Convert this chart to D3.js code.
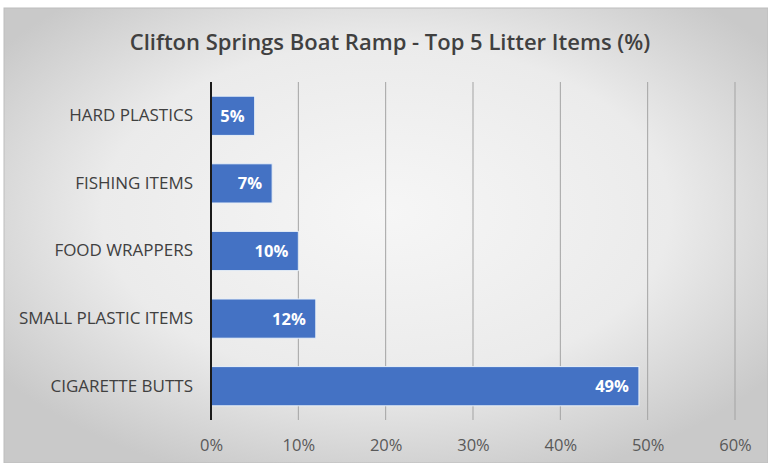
<!DOCTYPE html>
<html><head><meta charset="utf-8">
<script src="https://cdn.jsdelivr.net/npm/d3@7"></script>
<style>html,body{margin:0;padding:0;background:#fff;}svg{display:block;}</style>
</head><body>
<svg id="c" width="768" height="463"></svg>
<script>
const categories = ["HARD PLASTICS","FISHING ITEMS","FOOD WRAPPERS","SMALL PLASTIC ITEMS","CIGARETTE BUTTS"];
const values = [5, 7, 10, 12, 49];
const tickValues = [0, 10, 20, 30, 40, 50, 60];
const title = "Clifton Springs Boat Ramp - Top 5 Litter Items (%)";

const svg = d3.select("#c");
const defs = svg.append("defs");
const grad = defs.append("radialGradient").attr("id","bg").attr("cx","50%").attr("cy","45%").attr("r","62%");
grad.append("stop").attr("offset","0%").attr("stop-color","#f6f6f6");
grad.append("stop").attr("offset","60%").attr("stop-color","#ebebeb");
grad.append("stop").attr("offset","100%").attr("stop-color","#c9c9c9");
svg.append("rect").attr("x",4).attr("y",8).attr("width",764).attr("height",455).attr("fill","url(#bg)")
  .attr("stroke","#bdbdbd").attr("stroke-width",1);

const x = d3.scaleLinear().domain([0,60]).range([211,735]);
const y = d3.scaleBand().domain(categories).range([82,420]).paddingInner(0.42).paddingOuter(0.21);

const font = "'Open Sans', sans-serif";

// title
svg.append("text").attr("x",390).attr("y",50).attr("text-anchor","middle")
  .attr("font-family",font).attr("font-size",22).attr("font-weight",600).attr("fill","#404040")
  .text(title);

// gridlines
svg.append("g").selectAll("line").data(tickValues.filter(d=>d>0)).join("line")
  .attr("x1",d=>x(d)).attr("x2",d=>x(d)).attr("y1",82).attr("y2",420)
  .attr("stroke","#a3a3a3").attr("stroke-width",1);

// x axis labels
const xAxis = d3.axisBottom(x).tickValues(tickValues).tickFormat(d=>d+"%").tickSize(0).tickPadding(0);
const gx = svg.append("g").attr("transform","translate(0,439)").call(xAxis);
gx.select(".domain").remove();
gx.selectAll("text").attr("font-family",font).attr("font-size",16.5).attr("fill","#595959").attr("dy","0.71em");

// bars
svg.append("g").selectAll("rect").data(values).join("rect")
  .attr("x",x(0)).attr("y",(d,i)=>y(categories[i]))
  .attr("width",d=>x(d)-x(0)).attr("height",y.bandwidth())
  .attr("fill","#4472c4").attr("stroke","#e8f0f8").attr("stroke-width",1);

// bar labels
svg.append("g").selectAll("text").data(values).join("text")
  .attr("x",d=>x(d)-10).attr("y",(d,i)=>y(categories[i])+y.bandwidth()/2)
  .attr("dy","0.36em").attr("text-anchor","end")
  .attr("font-family",font).attr("font-size",16.5).attr("font-weight",700).attr("fill","#ffffff")
  .text(d=>d+"%");

// y axis
const yAxis = d3.axisLeft(y).tickSize(0).tickPadding(18);
const gy = svg.append("g").attr("transform",`translate(${x(0)},0)`).call(yAxis);
gy.select(".domain").remove();
gy.selectAll("text").attr("font-family",font).attr("font-size",17).attr("fill","#404040");
svg.append("line").attr("x1",x(0)).attr("x2",x(0)).attr("y1",82).attr("y2",420)
  .attr("stroke","#1a1a1a").attr("stroke-width",2);
</script>
</body></html>
